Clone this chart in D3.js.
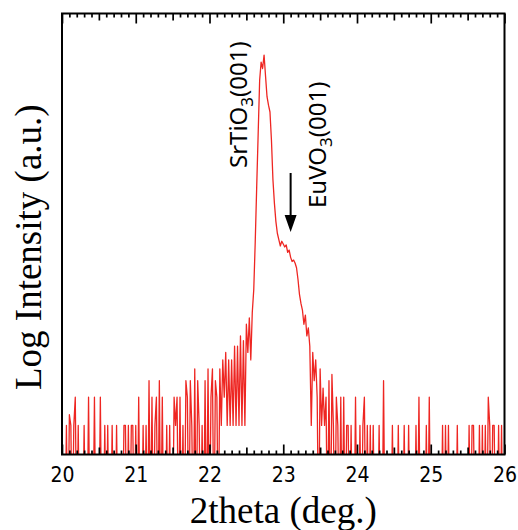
<!DOCTYPE html>
<html>
<head>
<meta charset="utf-8">
<script src="https://cdn.jsdelivr.net/npm/d3@7"></script>
<style>
  html, body { margin: 0; padding: 0; background: #fff; }
  svg { display: block; }
</style>
</head>
<body>
<svg id="chart" width="518" height="530"></svg>
<script>
// XRD 2theta scan around the (001) reflections, intensity on a log axis.
const scanStart = 20;   // 2theta of the first sample (deg.)
const scanStep = 0.02;  // sampling step (deg.)

// detector counts, one per sample (0 = no counts)
const counts = [
  0,0,0,1,0,1.3,1,0,1,2,
  0,1,0,0,0,1,0,0,2,0,
  0,0,2,0,0,0,2,0,0,1,
  0,1,0,0,1,0,0,1,0,0,
  0,0,1,1,0,1,0,1,1,0,
  1,0,2,0,0,1,0,1,0,3,
  0,2,0,1,2,0,3,0,2,0,
  0,1,0,1,0,0,2,1,2,0,
  2,0,1,0,3,2,0,3,1,0,
  4,0,3,1,0,1,0,3,0,4,
  0,2,4,0,3,2,0,4,1,5,
  2,6,1,5,1,5,1,7,1,7,
  1,9,1,8,1,12,6,14,5,16,
  28,90,350,1300,4800,7500,6400,8900,5300,3200,
  2600,2200,1100,420,235,150,112,96,82,92,
  86,80,84,70,74,62,56,58,54,48,
  36,25,20,17,12,15,9,11,7,1,
  6,3,5,2,0,4,1,2.5,1,2,
  0,3,0,3.5,1,0,2,1,0,2,
  0,2,0,1,1,0,1,0,0,2,
  0,0,1,0,1,2,0,1,0,1,
  0,1,0,0,0,1,0,0,3,0,
  0,0,0,0,1,0,0,0,1,0,
  0,0,1,0,0,1,0,0,0,0,
  1,0,2,0,0,0,0,1,0,2,
  0,0,0,0,0,0,0,0,1,0,
  1,0,1,0,0,0,0,0,1,0,
  0,0,0,0,0,0,1,0,1,1,
  0,0,0,1,0,1,0,1,0,2,
  1,0,1,1,0,0,1,0,1,0,
  0
];

const xDomain = [20, 26];
const xTickLabels = ["20", "21", "22", "23", "24", "25", "26"];
const xTitle = "2theta (deg.)";
const yTitle = "Log Intensity (a.u.)";

// reflection labels: formula, subscript, Miller index, 2theta of the marker
const reflections = [
  { name: "SrTiO", sub: "3", hkl: "(001)", pos: 22.74 },
  { name: "EuVO",  sub: "3", hkl: "(001)", pos: 23.10 }
];

const scan = counts.map((c, i) => ({ t: scanStart + i * scanStep, c }));

// ---- layout ----
const plot = { left: 62, right: 504.5, top: 13.5, bottom: 454.5 };

const x = d3.scaleLinear().domain(xDomain).range([plot.left, plot.right]);
const y = d3.scaleLog().domain([0.49, 24700]).range([plot.bottom, plot.top]);
// zero-count samples have no logarithm: send them well below the frame (clipped)
const zeroLevel = 0.05;

const svg = d3.select("#chart");

svg.append("defs").append("clipPath").attr("id", "plotClip")
  .append("rect")
  .attr("x", plot.left).attr("y", plot.top)
  .attr("width", plot.right - plot.left).attr("height", plot.bottom - plot.top);

// ---- data line ----
const line = d3.line()
  .x(d => x(d.t))
  .y(d => y(d.c > 0 ? d.c : zeroLevel));

svg.append("path")
  .datum(scan)
  .attr("clip-path", "url(#plotClip)")
  .attr("fill", "none")
  .attr("stroke", "#ee2622")
  .attr("stroke-width", 1.3)
  .attr("stroke-linejoin", "round")
  .attr("d", line);

// ---- ticks on top and bottom edges (0.1 deg minor, 0.5 deg medium, 1 deg major) ----
const allTicks = d3.range(xDomain[0] * 10, xDomain[1] * 10 + 1).map(k => k / 10);
const majorTicks = allTicks.filter(v => Math.abs(v - Math.round(v)) < 1e-6);
const halfTicks = allTicks.filter(v => Math.abs(v * 2 - Math.round(v * 2)) < 1e-6 && !majorTicks.includes(v));
const minorTicks = allTicks.filter(v => !majorTicks.includes(v) && !halfTicks.includes(v));

function tickLayer(axisFn, yPos, values, len) {
  const g = svg.append("g")
    .attr("transform", `translate(0,${yPos})`)
    .call(axisFn(x).tickValues(values).tickSize(-len).tickFormat(""));
  g.select(".domain").remove();
  g.selectAll(".tick line").attr("stroke", "#000").attr("stroke-width", 1.7);
  return g;
}
[[minorTicks, 4], [halfTicks, 7], [majorTicks, 10]].forEach(([vals, len]) => {
  tickLayer(d3.axisBottom, plot.bottom, vals, len);
  tickLayer(d3.axisTop, plot.top, vals, len);
});

// tick labels
const labelAxis = svg.append("g")
  .attr("transform", `translate(0,${plot.bottom})`)
  .call(d3.axisBottom(x).tickValues(majorTicks).tickSize(0).tickPadding(13)
    .tickFormat((d, i) => xTickLabels[i]));
labelAxis.select(".domain").remove();
labelAxis.selectAll("text")
  .attr("fill", "#000")
  .style("font-family", "'Liberation Sans Narrow', 'Arial Narrow', 'DejaVu Sans Condensed', sans-serif")
  .style("font-size", "21px");

// ---- frame ----
svg.append("rect")
  .attr("x", plot.left).attr("y", plot.top)
  .attr("width", plot.right - plot.left).attr("height", plot.bottom - plot.top)
  .attr("fill", "none").attr("stroke", "#000").attr("stroke-width", 2);

// ---- axis titles ----
const serif = "'Liberation Serif', 'Times New Roman', serif";
svg.append("text")
  .attr("x", (plot.left + plot.right) / 2).attr("y", 523)
  .attr("text-anchor", "middle")
  .style("font-family", serif).style("font-size", "37px")
  .text(xTitle);

svg.append("text")
  .attr("transform", "translate(41,390) rotate(-90)")
  .attr("text-anchor", "start")
  .style("font-family", serif).style("font-size", "37px")
  .text(yTitle);

// ---- reflection labels ----
const sans = "'Noto Sans', 'DejaVu Sans', sans-serif";
function reflectionLabel(r, bx, by) {
  const t = svg.append("text")
    .attr("transform", `translate(${bx},${by}) rotate(-90)`)
    .style("font-family", sans).style("font-size", "24px").attr("fill", "#000");
  t.append("tspan").text(r.name);
  t.append("tspan").attr("dy", 6).style("font-size", "17px").text(r.sub);
  t.append("tspan").attr("dy", -6).text(r.hkl);
}
reflectionLabel(reflections[0], x(reflections[0].pos) - 17.5, 168);
reflectionLabel(reflections[1], x(reflections[1].pos) + 35, 208);

// arrow marking the film reflection
const ax = x(reflections[1].pos);
svg.append("line")
  .attr("x1", ax).attr("x2", ax).attr("y1", 173).attr("y2", 218)
  .attr("stroke", "#000").attr("stroke-width", 2);
svg.append("path")
  .attr("d", `M${ax - 6},215 L${ax + 6},215 L${ax},232 Z`)
  .attr("fill", "#000");
</script>
</body>
</html>
